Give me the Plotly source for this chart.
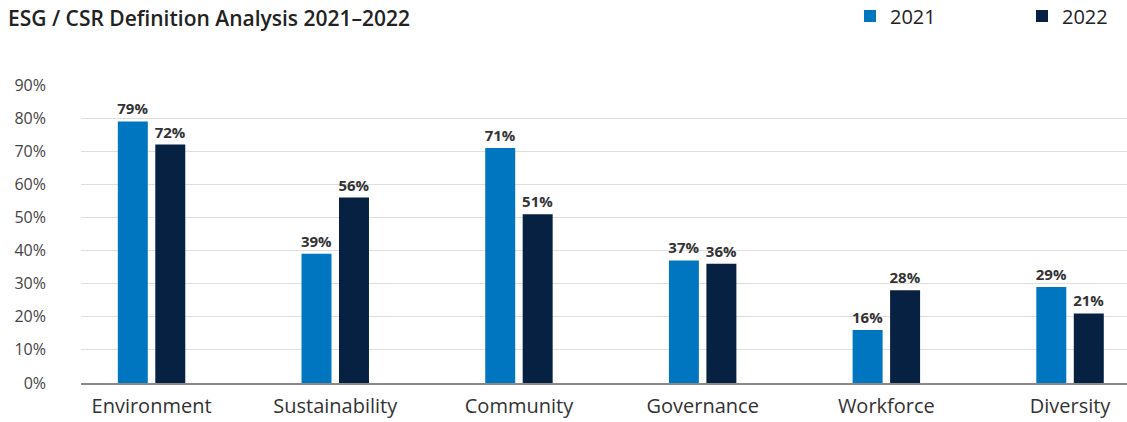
import plotly.graph_objects as go

# Share of respondents naming each area in their ESG / CSR definition
categories = ["Environment", "Sustainability", "Community", "Governance", "Workforce", "Diversity"]
share_2021 = [79, 39, 71, 37, 16, 29]
share_2022 = [72, 56, 51, 36, 28, 21]
y_ticks = [0, 10, 20, 30, 40, 50, 60, 70, 80, 90]

BLUE = "#0076C0"
NAVY = "#062142"
FONT = "Open Sans"

fig = go.Figure()
for name, values, color, legend_id in [("2021", share_2021, BLUE, "legend"),
                                       ("2022", share_2022, NAVY, "legend2")]:
    fig.add_trace(go.Bar(
        name=name,
        x=categories,
        y=values,
        marker=dict(color=color, line=dict(width=0)),
        text=[f"{v}%" for v in values],
        textposition="outside",
        constraintext="none",
        textfont=dict(family=FONT, size=15, color="#333333", weight="bold"),
        cliponaxis=False,
        hoverinfo="skip",
        legend=legend_id,
    ))

legend_style = dict(
    orientation="h",
    xref="container", xanchor="left",
    y=1 - 16 / 422, yref="container", yanchor="middle",
    font=dict(family=FONT, size=20, color="#222222"),
    bgcolor="rgba(0,0,0,0)",
)

fig.update_layout(
    width=1127,
    height=422,
    margin=dict(l=81, r=0, t=85, b=39),
    paper_bgcolor="white",
    plot_bgcolor="white",
    barmode="group",
    bargap=0.592,
    bargroupgap=0.2,
    title=dict(
        text="ESG / CSR Definition Analysis 2021–2022",
        font=dict(family=FONT, size=21, color="#222222", weight=600),
        x=8 / 1127, xref="container", xanchor="left",
        y=1 - 19 / 422, yref="container", yanchor="middle",
    ),
    legend=dict(legend_style, x=850 / 1127),
    legend2=dict(legend_style, x=1022 / 1127),
    xaxis=dict(
        type="category",
        range=[-0.384, 5.31],
        showgrid=False,
        showline=True,
        linecolor="#8a8a8a",
        linewidth=1.5,
        ticks="",
        tickfont=dict(family=FONT, size=20, color="#333333"),
        ticklabelstandoff=4,
    ),
    yaxis=dict(
        range=[0, 90],
        tickmode="array",
        tickvals=y_ticks,
        ticktext=[f"{v}%" for v in y_ticks],
        showgrid=True,
        gridcolor="#dedede",
        gridwidth=1,
        zeroline=False,
        showline=False,
        ticks="",
        tickfont=dict(family=FONT, size=16, color="#444444"),
        ticklabelstandoff=34,
    ),
    showlegend=True,
)

fig.write_html("out.html")
